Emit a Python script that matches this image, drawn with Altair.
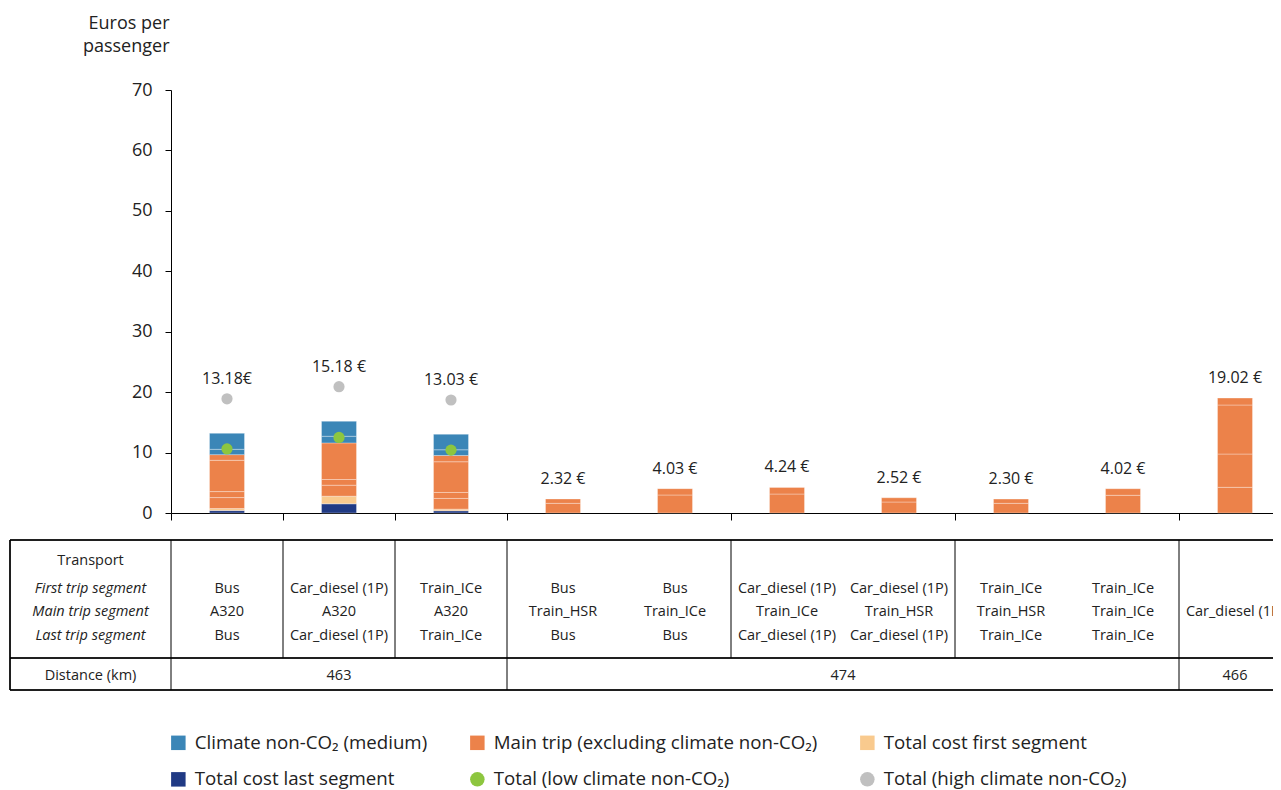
import altair as alt
import pandas as pd

# ---------------- data ----------------
last_cost = [0.40, 1.52, 0.37, 0, 0, 0, 0, 0, 0, 0]
first_cost = [0.33, 1.26, 0.27, 0, 0, 0, 0, 0, 0, 0]
main_parts = [
    [1.82, 0.99, 5.18, 0.94],
    [1.82, 0.94, 6.06],
    [1.77, 0.99, 5.08, 1.04],
    [1.60, 0.72],
    [2.98, 1.05],
    [3.14, 1.10],
    [1.82, 0.70],
    [1.60, 0.70],
    [2.93, 1.09],
    [4.25, 5.51, 8.11, 1.15],
]
nonco2_parts = [
    [0.88, 2.64],
    [1.10, 2.48],
    [0.94, 2.57],
    [], [], [], [], [], [], [],
]
total_values = [13.18, 15.18, 13.03, 2.32, 4.03, 4.24, 2.52, 2.30, 4.02, 19.02]
total_labels = ["13.18€", "15.18 €", "13.03 €", "2.32 €", "4.03 €", "4.24 €",
                "2.52 €", "2.30 €", "4.02 €", "19.02 €"]
low_values = [10.6, 12.5, 10.4]
high_values = [18.9, 20.9, 18.7]

first_seg = ["Bus", "Car_diesel (1P)", "Train_ICe", "Bus", "Bus", "Car_diesel (1P)",
             "Car_diesel (1P)", "Train_ICe", "Train_ICe", ""]
main_seg = ["A320", "A320", "A320", "Train_HSR", "Train_ICe", "Train_ICe",
            "Train_HSR", "Train_HSR", "Train_ICe", "Car_diesel (1P)"]
last_seg = ["Bus", "Car_diesel (1P)", "Train_ICe", "Bus", "Bus", "Car_diesel (1P)",
            "Car_diesel (1P)", "Train_ICe", "Train_ICe", ""]
distances = ["463", "474", "466"]
distance_spans = [(0, 3), (3, 9), (9, 10)]
row_labels = ["Transport", "First trip segment", "Main trip segment", "Last trip segment"]
full_cols = [0, 3, 9]
part_cols = [1, 2, 5, 7]

legend_names = [
    "Climate non-CO₂ (medium)",
    "Main trip (excluding climate non-CO₂)",
    "Total cost first segment",
    "Total cost last segment",
    "Total (low climate non-CO₂)",
    "Total (high climate non-CO₂)",
]
legend_colors = ["#3b86b7", "#ec824a", "#f9ca8e", "#203a84", "#8dc63f", "#c0c0c0"]
legend_shapes = ["square", "square", "square", "square", "circle", "circle"]

FONT = "Open Sans"
INK = "#222222"

# ---------------- tables ----------------
rows = []
for i in range(10):
    parts = ([(legend_names[3], last_cost[i]), (legend_names[2], first_cost[i])]
             + [(legend_names[1], v) for v in main_parts[i]]
             + [(legend_names[0], v) for v in nonco2_parts[i]])
    base = 0.0
    for k, (g, v) in enumerate(parts):
        if v > 0:
            rows.append({"xc": i + 0.5, "group": g, "y0": base, "y1": base + v, "k": k})
        base += v
bars_df = pd.DataFrame(rows)

pts = []
for i, v in enumerate(low_values):
    pts.append({"xc": i + 0.5, "group": legend_names[4], "v": v})
for i, v in enumerate(high_values):
    pts.append({"xc": i + 0.5, "group": legend_names[5], "v": v})
pts_df = pd.DataFrame(pts)

lab = []
for i in range(10):
    top = total_values[i]
    if i < len(high_values):
        top = max(top, high_values[i])
    lab.append({"xc": i + 0.5, "at": top, "label": total_labels[i]})
lab_df = pd.DataFrame(lab)

cols_df = pd.DataFrame({"xc": [i + 0.5 for i in range(10)],
                        "first": first_seg, "main": main_seg, "last": last_seg})
dist_df = pd.DataFrame({"xc": [(a + b) / 2 for a, b in distance_spans], "d": distances})
full_df = pd.DataFrame({"xb": full_cols})
part_df = pd.DataFrame({"xb": part_cols})

# ---------------- scales ----------------
PLOT_W = 1120  # ten columns of 112 px; the last one runs past the page edge
xscale = alt.Scale(domain=[0, 10], nice=False, zero=False, padding=0)
yscale = alt.Scale(domain=[0, 70], nice=False)
cscale = alt.Scale(domain=legend_names, range=legend_colors)
sscale = alt.Scale(domain=legend_names, range=legend_shapes)

leg = alt.Legend(
    title=None, orient="none", legendX=-2, legendY=643, columns=3,
    direction="horizontal",
    symbolSize=210, symbolStrokeWidth=0, labelFontSize=18.7, labelFont=FONT,
    labelColor=INK, labelLimit=0, columnPadding=40, rowPadding=17,
    labelOffset=7, padding=0,
)

xenc = alt.X("xc:Q", scale=xscale,
             axis=alt.Axis(values=[0, 1, 2, 3, 5, 7, 9], labels=False, tickSize=7,
                           title=None, grid=False, domainColor="black",
                           tickColor="black", domainWidth=1))

bars = alt.Chart(bars_df).mark_bar(
    width=35, stroke="white", strokeWidth=0.7, strokeOpacity=0.45
).encode(
    x=xenc,
    y=alt.Y("y0:Q", scale=yscale,
            axis=alt.Axis(values=list(range(0, 71, 10)), tickSize=6, grid=False,
                          labelFontSize=18, labelFont=FONT, labelColor=INK,
                          labelPadding=13, domainColor="black", tickColor="black",
                          title=["Euros per", "passenger"], titleAngle=0,
                          titleAlign="right", titleX=-2, titleY=-62,
                          titleBaseline="alphabetic", titleFontSize=18,
                          titleFont=FONT, titleFontWeight="normal",
                          titleColor=INK, titleLineHeight=23)),
    y2="y1:Q",
    color=alt.Color("group:N", scale=cscale, legend=leg),
)

points = alt.Chart(pts_df).mark_point(filled=True, size=125, opacity=1).encode(
    x=alt.X("xc:Q", scale=xscale),
    y=alt.Y("v:Q", scale=yscale),
    color=alt.Color("group:N", scale=cscale, legend=leg),
    shape=alt.Shape("group:N", scale=sscale, legend=leg),
)

labels = alt.Chart(lab_df).mark_text(
    fontSize=16, font=FONT, color=INK, dy=-20, baseline="middle"
).encode(x=alt.X("xc:Q", scale=xscale), y=alt.Y("at:Q", scale=yscale), text="label:N")

# table
Y_TOP, Y_MID, Y_BOT = 450, 568, 600
LEFT = -161
hline_top = alt.Chart(dist_df).mark_rule(color="black", strokeWidth=1).encode(
    x=alt.value(LEFT), x2=alt.value(PLOT_W), y=alt.value(Y_TOP))
hline_mid = alt.Chart(dist_df).mark_rule(color="black", strokeWidth=1).encode(
    x=alt.value(LEFT), x2=alt.value(PLOT_W), y=alt.value(Y_MID))
hline_bot = alt.Chart(dist_df).mark_rule(color="black", strokeWidth=1).encode(
    x=alt.value(LEFT), x2=alt.value(PLOT_W), y=alt.value(Y_BOT))
vline_left = alt.Chart(dist_df).mark_rule(color="black", strokeWidth=1).encode(
    x=alt.value(LEFT), y=alt.value(Y_TOP), y2=alt.value(Y_BOT))
vline_full = alt.Chart(full_df).mark_rule(color="black", strokeWidth=1).encode(
    x=alt.X("xb:Q", scale=xscale), y=alt.value(Y_TOP), y2=alt.value(Y_BOT))
vline_part = alt.Chart(part_df).mark_rule(color="black", strokeWidth=1).encode(
    x=alt.X("xb:Q", scale=xscale), y=alt.value(Y_TOP), y2=alt.value(Y_MID))

ROW_Y = [470.5, 498.5, 522, 545.5]
DIST_Y = 585.5

def col_text(field, yv):
    return alt.Chart(cols_df).mark_text(fontSize=14.5, font=FONT, color=INK,
                                        baseline="middle").encode(
        x=alt.X("xc:Q", scale=xscale), y=alt.value(yv), text=f"{field}:N")

row_head = []
for j, name in enumerate(row_labels):
    row_head.append(
        alt.Chart(pd.DataFrame({"t": [name]})).mark_text(
            fontSize=14.5, font=FONT, color=INK, baseline="middle",
            fontStyle="normal" if j == 0 else "italic",
        ).encode(x=alt.value(LEFT / 2), y=alt.value(ROW_Y[j]), text="t:N")
    )
dist_head = alt.Chart(pd.DataFrame({"t": ["Distance (km)"]})).mark_text(
    fontSize=14.5, font=FONT, color=INK, baseline="middle"
).encode(x=alt.value(LEFT / 2), y=alt.value(DIST_Y), text="t:N")
dist_text = alt.Chart(dist_df).mark_text(
    fontSize=14.5, font=FONT, color=INK, baseline="middle"
).encode(x=alt.X("xc:Q", scale=xscale), y=alt.value(DIST_Y), text="d:N")

chart = alt.layer(
    bars, points, labels,
    hline_top, hline_mid, hline_bot, vline_left, vline_full, vline_part,
    col_text("first", ROW_Y[1]), col_text("main", ROW_Y[2]), col_text("last", ROW_Y[3]),
    *row_head, dist_head, dist_text,
).properties(
    width=PLOT_W, height=423,
    autosize=alt.AutoSizeParams(type="none"),
    # the svg must stay within the 1265 px body, so the last column is cut at the right
    padding={"left": 163, "top": 82, "right": -18, "bottom": 285},
).configure_view(stroke=None).configure_axis(grid=False)

chart.save("out.html", embed_options={"renderer": "svg", "actions": False})
